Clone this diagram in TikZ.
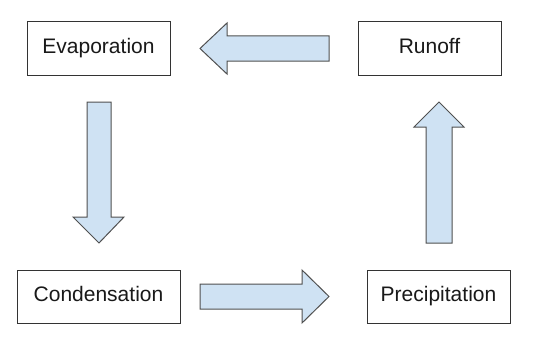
\documentclass[tikz,border=0pt]{standalone}
\usepackage{fontspec}
\setmainfont{Liberation Sans}
\usetikzlibrary{positioning}
\definecolor{boxline}{HTML}{333333}
\definecolor{flowfill}{HTML}{CFE2F3}
\definecolor{flowline}{HTML}{505050}

\begin{document}
\begin{tikzpicture}[x=1pt, y=-1pt, line width=1pt,
    stage/.style={draw=boxline, fill=white, minimum height=53pt, text=black!90,
      font=\fontsize{21}{25}\selectfont, inner sep=0pt,
      text height=15pt, text depth=6pt},
    flow/.style={draw=flowline, fill=flowfill, line join=miter}]
  \useasboundingbox (0,0) rectangle (537,345);

  % Stupne cyklu
  \node[stage, minimum width=143pt] (evap) at (98.5,48.5) {Evaporation};
  \node[stage, minimum width=143pt] (runoff) at (429.5,48.5) {Runoff};
  \node[stage, minimum width=163pt] (cond) at (98.5,296.5) {Condensation};
  \node[stage, minimum width=143pt] (prec) at (438.5,296.5) {Precipitation};

  % Sipky mezi stupni
  \draw[flow] (329,36) -- (227,36) -- (227,23) -- (200,48.5) -- (227,74)
    -- (227,61) -- (329,61) -- cycle;
  \draw[flow] (87,102) -- (87,217) -- (73,217) -- (99,243) -- (124,217)
    -- (111,217) -- (111,102) -- cycle;
  \draw[flow] (200,284) -- (302,284) -- (302,270) -- (329,296.5) -- (302,323)
    -- (302,309) -- (200,309) -- cycle;
  \draw[flow] (426,243) -- (426,127) -- (414,127) -- (439,102) -- (464,127)
    -- (452,127) -- (452,243) -- cycle;
\end{tikzpicture}
\end{document}
